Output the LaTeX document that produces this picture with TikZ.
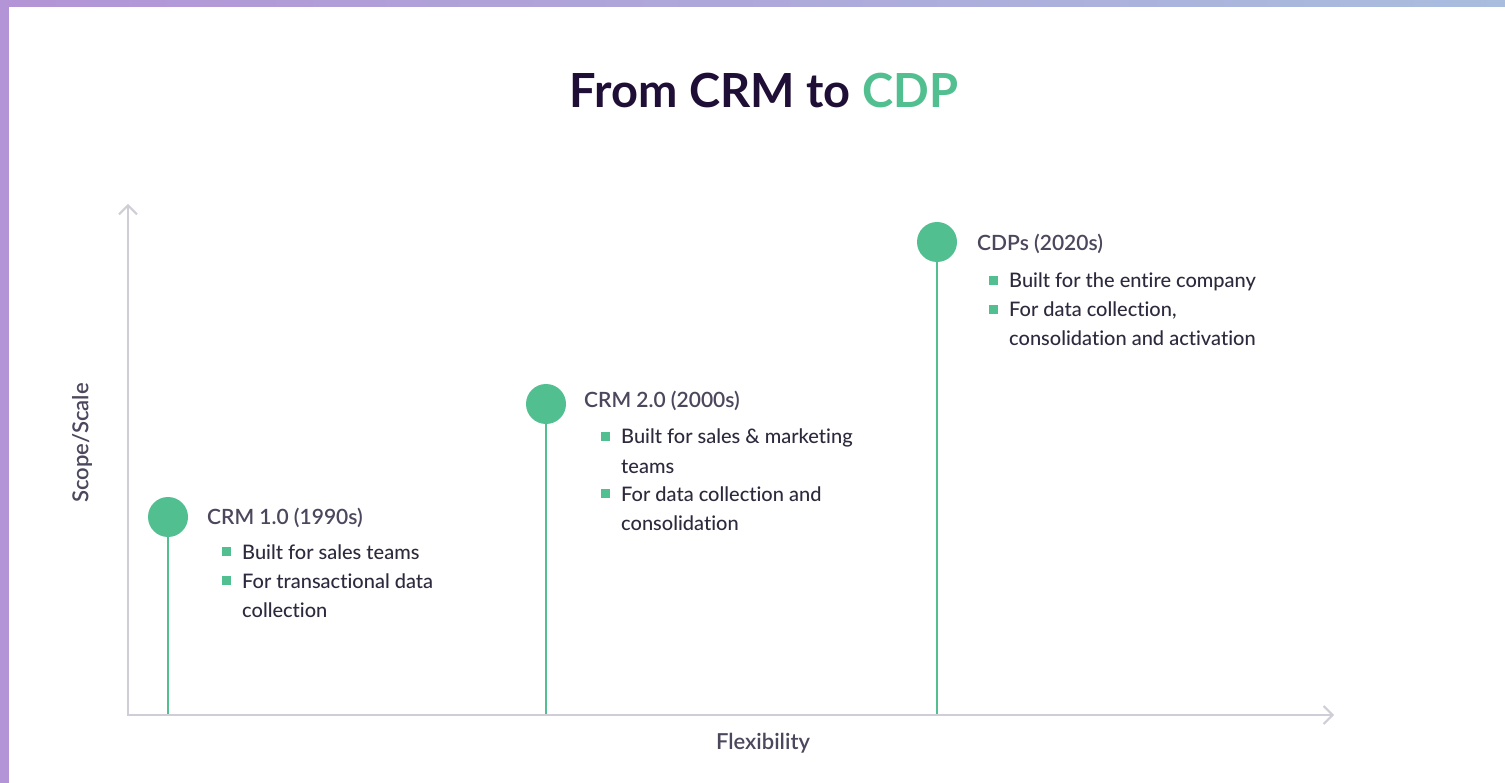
\documentclass[tikz,border=0pt]{standalone}
\usepackage{fontspec}
\setmainfont{Lato}[Ligatures=NoCommon]
\IfFontExistsTF{Lato Semibold}{\newfontfamily\headfont{Lato Semibold}[Ligatures=NoCommon]}{\newfontfamily\headfont{Lato}[FakeBold=1.2]}
\IfFontExistsTF{Lato Medium}{\newfontfamily\bodyfont{Lato Medium}[Ligatures=NoCommon]}{\newfontfamily\bodyfont{Lato}[Ligatures=NoCommon]}
\usetikzlibrary{positioning,arrows.meta,calc}
\definecolor{ink}{HTML}{1F0E36}
\definecolor{mint}{HTML}{52BF90}
\definecolor{slate}{HTML}{4C475C}
\definecolor{body}{HTML}{2E2A3D}
\definecolor{axisgray}{HTML}{CFCDD6}
\definecolor{lilac}{HTML}{B394D6}
\definecolor{haze}{HTML}{A9BDDE}
% wrapped bullet text, baseline on its first line
\newcommand{\itemlines}[1]{\begin{tabular}[t]{@{}l@{}}#1\end{tabular}}

\begin{document}
\begin{tikzpicture}[x=1pt, y=-1pt,
  dot/.style={circle, fill=mint, minimum size=40pt, inner sep=0pt},
  stem/.style={draw=mint, line width=2.5pt},
  axis/.style={draw=axisgray, line width=2pt,
               {Straight Barb[length=9pt,width=18pt]}-{Straight Barb[length=9pt,width=18pt]}},
  era/.style={anchor=base west, inner sep=0pt, text=slate,
              font=\headfont\fontsize{21}{25}\selectfont},
  item/.style={anchor=base west, inner sep=0pt, text=body,
               font=\bodyfont\fontsize{20}{29}\selectfont},
  sq/.style={rectangle, fill=mint, minimum size=9pt, inner sep=0pt},
  axlabel/.style={text=slate, font=\headfont\fontsize{22}{26}\selectfont}
]
  \fill[white] (0,0) rectangle (1505,783);
  \useasboundingbox (0,0) rectangle (1505,783);
  \shade[left color=lilac, right color=haze] (0,0) rectangle (1505,7);
  \fill[lilac] (0,0) rectangle (9,783);

  \node[font=\bfseries\fontsize{47}{56}\selectfont, text=ink] (title) at (764,91)
    {From CRM to \textcolor{mint}{CDP}};

  \node[dot] (dot1) at (168,517) {};
  \node[dot] (dot2) at (546,404) {};
  \node[dot] (dot3) at (937,242) {};
  \coordinate (foot1) at (168,715);
  \coordinate (foot2) at (546,715);
  \coordinate (foot3) at (937,715);
  \draw[stem] (dot1) -- (foot1);
  \draw[stem] (dot2) -- (foot2);
  \draw[stem] (dot3) -- (foot3);

  \coordinate (o) at (128,715);
  \coordinate (ytop) at (128,204);
  \coordinate (xend) at (1334,715);
  \draw[axis] (ytop) -- (o) -- (xend);
  \node[axlabel, rotate=90] (ylab) at (82,443) {Scope/Scale};
  \node[axlabel] (xlab) at (763,743) {Flexibility};

  \node[era] (era1) at (207,524) {CRM 1.0 (1990s)};
  \node[era] (era2) at (584,408) {CRM 2.0 (2000s)};
  \node[era] (era3) at (977,251) {CDPs (2020s)};

  \node[item] (p11) at (242,559) {Built for sales teams};
  \node[item] (p12) at (242,588) {\itemlines{For transactional data\\collection}};
  \node[item] (p21) at (621,444) {\itemlines{Built for sales \& marketing\\teams}};
  \node[item] (p22) at (621,501) {\itemlines{For data collection and\\consolidation}};
  \node[item] (p31) at (1009,288) {Built for the entire company};
  \node[item] (p32) at (1009,317) {\itemlines{For data collection,\\consolidation and activation}};

  \foreach \p in {p11,p12,p21,p22,p31,p32}
    \node[sq] (sq-\p) at ($(\p.base west)+(-16,-7.5)$) {};
\end{tikzpicture}
\end{document}
